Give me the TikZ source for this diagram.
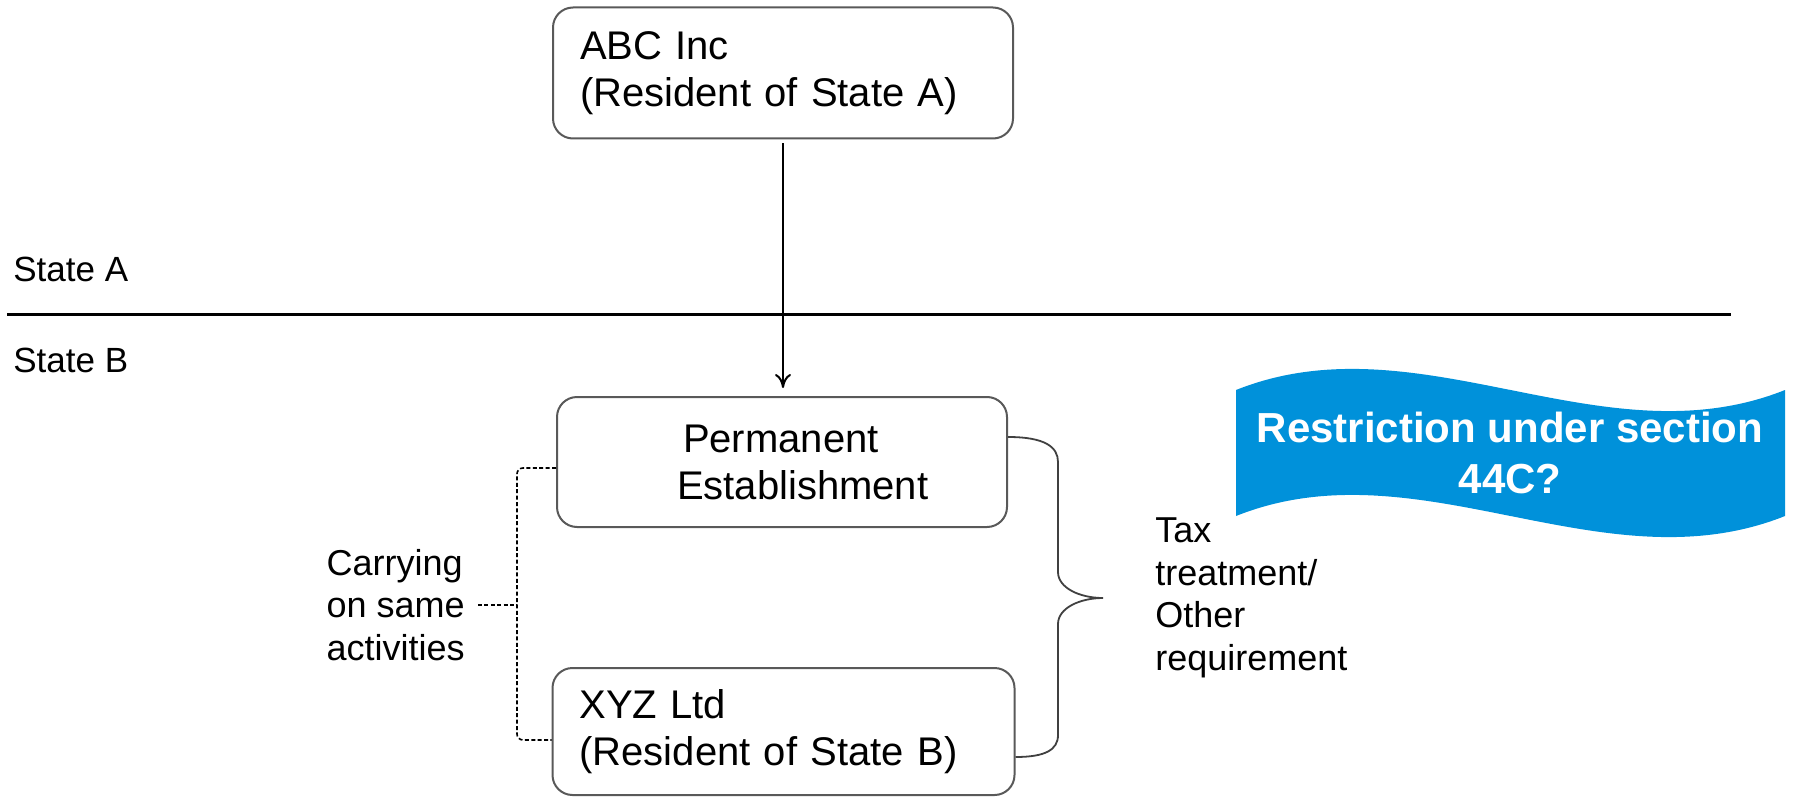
\documentclass[tikz,border=0pt]{standalone}
\usepackage{fontspec}
\setmainfont{Liberation Sans}
\usepackage{tikz}
\usetikzlibrary{positioning,arrows.meta}
\definecolor{bannerblue}{HTML}{0091DA}

\begin{document}
\begin{tikzpicture}[x=0.5pt, y=-0.5pt,
            box/.style = {draw=black!65, line width=1pt, rounded corners=10pt, align=left,
                          font=\fontsize{20pt}{23.5pt}\selectfont},
            side/.style = {inner sep=0pt, align=left, font=\fontsize{18pt}{21.3pt}\selectfont},
            dashlink/.style = {draw=black, line width=0.8pt, dash pattern=on 2pt off 1.2pt},
            brace/.style = {draw=black!75, line width=0.9pt},
            >={To[length=7pt,width=8pt]}
            ]
            \useasboundingbox (0,0) rectangle (1794,797);
            % companies
            \node[box, text width=203pt, inner xsep=13.5pt, minimum height=65.5pt] (abc) at (783,73)
                {ABC Inc\\(Resident of State A)};
            \node[box, text width=105pt, inner xsep=60pt, minimum height=65pt] (pe) at (782,462)
                {\hspace*{3pt}Permanent\\\mbox{Establishment}};
            \node[box, text width=204pt, inner xsep=13.5pt, minimum height=63.5pt] (xyz) at (783.5,731.5)
                {XYZ Ltd\\(Resident of State B)};
            \draw[->, line width=1pt, shorten <=2pt, shorten >=4pt] (abc.south) -- (abc.south |- pe.north);
            % border between the states
            \draw[line width=1.5pt] (7,314) -- (1731,314);
            \node[side, font=\fontsize{17.5pt}{21pt}\selectfont, anchor=base west] (stateA) at (13,281) {State A};
            \node[side, font=\fontsize{17.5pt}{21pt}\selectfont, anchor=base west] (stateB) at (13,372) {State B};
            % same activities
            \coordinate (joint) at (517,605);
            \draw[dashlink, rounded corners=3pt] ([yshift=-3pt]pe.west) -| (joint) |- ([yshift=-4.25pt]xyz.west);
            \node[side, left=26pt of joint] (carry) {Carrying\\on same\\activities};
            \draw[dashlink, shorten <=6.5pt] (carry) -- (joint);
            % tax treatment
            \coordinate (tip) at (1103,598);
            \draw[brace] ([yshift=12.5pt]pe.east) .. controls (1045,437) and (1058,447) .. (1058,462)
                -- (1058,572) .. controls (1058,588) and (1080,598) .. (tip)
                .. controls (1080,598) and (1058,608) .. (1058,624)
                -- (1058,735) .. controls (1058,750) and (1045,757) .. ([yshift=-12.75pt]xyz.east);
            \node[side, right=26pt of tip] (tax) {Tax\\treatment/\\Other\\requirement};
            % banner
            \fill[bannerblue] (1236,390) .. controls (1419,317) and (1602,463) .. (1785,390)
                -- (1785,516) .. controls (1602,589) and (1419,443) .. (1236,516) -- cycle;
            \node[text=white, align=center, font=\fontsize{21pt}{25.5pt}\selectfont\bfseries] (banner) at (1510,453)
                {Restriction under section\\44C?};
\end{tikzpicture}
\end{document}
